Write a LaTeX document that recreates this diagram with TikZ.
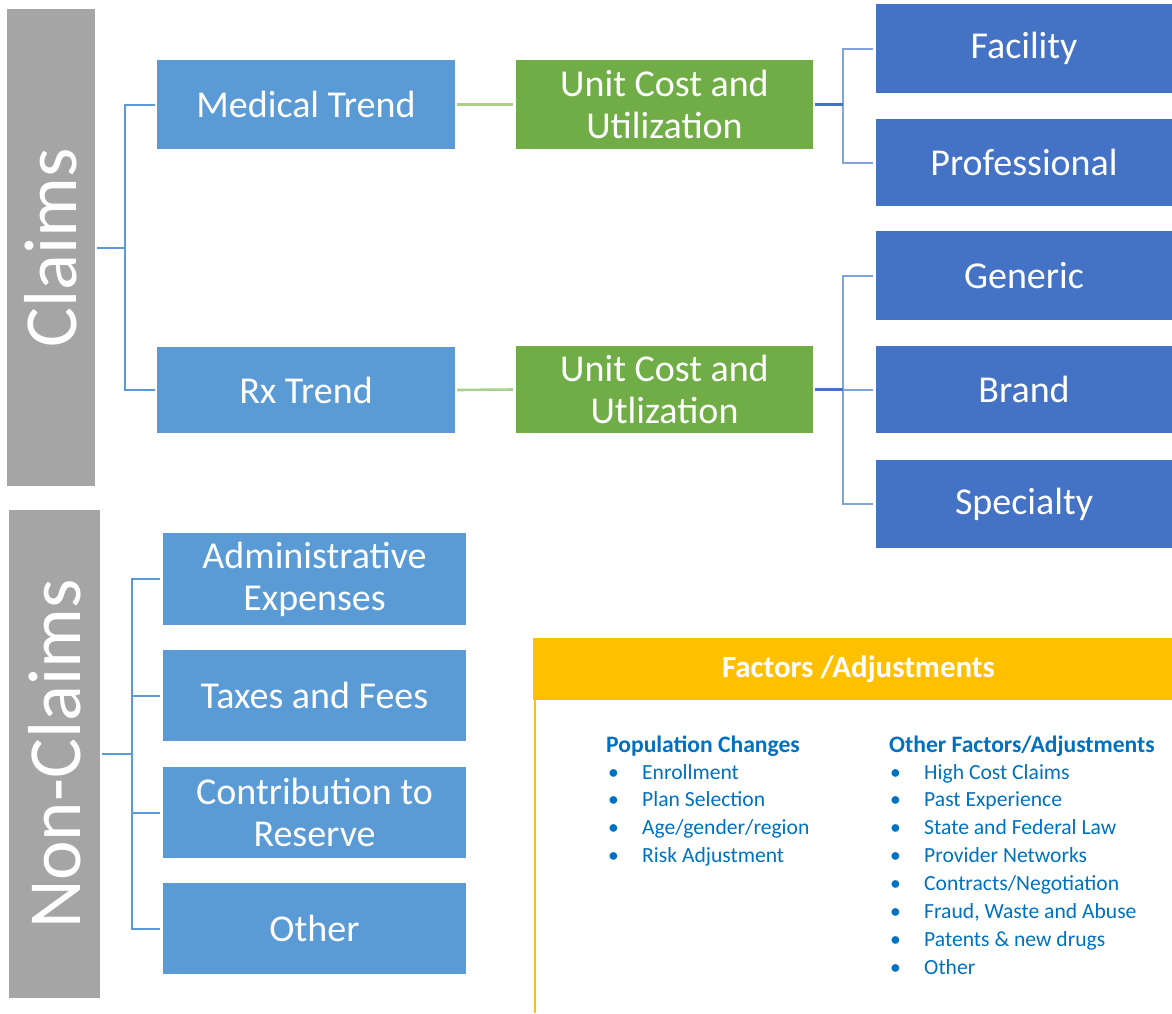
\documentclass[tikz,border=0pt]{standalone}
\usepackage{fontspec}
\setmainfont{Carlito}
\definecolor{mblue}{HTML}{5B9BD5}
\definecolor{dblue}{HTML}{4472C4}
\definecolor{lgreen}{HTML}{70AD47}
\definecolor{pgreen}{HTML}{A9D18E}
\definecolor{lgray}{HTML}{A5A5A5}
\definecolor{gold}{HTML}{FFC000}
\definecolor{listblue}{HTML}{0070C0}
\definecolor{bracketblue}{HTML}{7FA3DA}
\begin{document}
\begin{tikzpicture}[x=1pt,y=-1pt,
  box/.style={rectangle, inner sep=0pt, align=center, text=white, font=\fontsize{38}{42}\selectfont},
  mbox/.style={box, fill=mblue},
  dbox/.style={box, fill=dblue},
  gbox/.style={box, fill=lgreen},
  sidebar/.style={rectangle, inner sep=0pt, fill=lgray},
  sidetext/.style={text=white, rotate=90, inner sep=0pt, font=\fontsize{75}{80}\selectfont},
  lconn/.style={draw=mblue, line width=2pt},
  gconn/.style={draw=pgreen, line width=2.6pt},
  rthick/.style={draw=dblue, line width=3.5pt},
  rthin/.style={draw=bracketblue, line width=2pt},
  listhead/.style={anchor=base west, inner sep=0pt, text=listblue, font=\fontsize{23.6}{27}\selectfont\bfseries},
  listitem/.style={anchor=base west, inner sep=0pt, text=listblue, font=\fontsize{21.6}{25}\selectfont},
]
\useasboundingbox (0,0) rectangle (1172,1013);

% side bars
\node[sidebar, minimum width=88pt, minimum height=477pt] (claims) at (51,247.5) {};
\node[sidetext] (claimst) at (claims.center) {Claims};
\node[sidebar, minimum width=91pt, minimum height=488pt] (nonclaims) at (54.5,754) {};
\node[sidetext] (nonclaimst) at (nonclaims.center) {Non-Claims};

% claims tree
\node[mbox, minimum width=298pt, minimum height=89pt] (med) at (306,104.5) {Medical Trend};
\node[mbox, minimum width=298pt, minimum height=86pt] (rx) at (306,390) {Rx Trend};
\node[gbox, minimum width=297pt, minimum height=89pt] (ucu1) at (664.5,104.5) {Unit Cost and\\Utilization};
\node[gbox, minimum width=297pt, minimum height=87pt] (ucu2) at (664.5,389.5) {Unit Cost and\\Utlization};

\node[dbox, minimum width=296pt, minimum height=89pt] (facility) at (1024,48.5) {Facility};
\node[dbox, minimum width=296pt, minimum height=87pt] (professional) at (1024,162.5) {Professional};
\node[dbox, minimum width=296pt, minimum height=89pt] (generic) at (1024,275.5) {Generic};
\node[dbox, minimum width=296pt, minimum height=87pt] (brand) at (1024,389.5) {Brand};
\node[dbox, minimum width=296pt, minimum height=88pt] (specialty) at (1024,504) {Specialty};

% non-claims tree
\node[mbox, minimum width=303pt, minimum height=92pt] (admin) at (314.5,579) {Administrative\\Expenses};
\node[mbox, minimum width=303pt, minimum height=91pt] (taxes) at (314.5,695.5) {Taxes and Fees};
\node[mbox, minimum width=303pt, minimum height=91pt] (contrib) at (314.5,812.5) {Contribution to\\Reserve};
\node[mbox, minimum width=303pt, minimum height=91pt] (otherb) at (314.5,928.5) {Other};

% connectors: claims
\coordinate (cj) at (125,247.5);
\draw[lconn] (claims.east) ++(2,0) -- (cj);
\draw[lconn] (med.west) ++(-2,0) -| (cj);
\draw[lconn] (rx.west) ++(-2,0) -| (cj);

\draw[gconn] (med.east) ++(2,0) -- ([xshift=-3pt]ucu1.west);
\draw[gconn] (rx.east) ++(2,0) -- ([xshift=-3pt]ucu2.west);

\coordinate (rj1) at (843,104.5);
\draw[rthin] ([xshift=-3pt]facility.west) -| (rj1);
\draw[rthin] ([xshift=-3pt]professional.west) -| (rj1);
\draw[rthick] ([xshift=2pt]ucu1.east) -- (rj1);

\coordinate (rj2) at (843,389.5);
\draw[rthin] ([xshift=-3pt]generic.west) -| (rj2);
\draw[rthin] ([xshift=-3pt]specialty.west) -| (rj2);
\draw[rthin] ([xshift=-3pt]brand.west) -- (rj2);
\draw[rthick] ([xshift=2pt]ucu2.east) -- (rj2);

% connectors: non-claims
\coordinate (nj) at (132,754);
\draw[lconn] (nonclaims.east) ++(2,0) -- (nj);
\draw[lconn] ([xshift=-3pt]admin.west) -| (nj);
\draw[lconn] ([xshift=-3pt]taxes.west) -| (nj);
\draw[lconn] ([xshift=-3pt]contrib.west) -| (nj);
\draw[lconn] ([xshift=-3pt]otherb.west) -| (nj);

% factors panel
\node[rectangle, fill=gold, inner sep=0pt, minimum width=639pt, minimum height=62pt,
      text=white, font=\fontsize{30.9}{34}\selectfont\bfseries] (header) at (852.5,669) {\hspace{12pt}Factors /Adjustments};
\coordinate (ybot) at (535,1013);
\draw[draw=gold, line width=2pt] (header.south west -| ybot) -- (ybot);

\node[listhead] (pophead) at (606,752) {Population Changes};
\foreach \t [count=\i] in {Enrollment, Plan Selection, Age/gender/region, Risk Adjustment}{
  \node[listitem] (pop\i) at (608,779+27.9*\i-27.9) {\makebox[34pt][l]{•}\t};
}
\node[listhead] (othhead) at (889,752) {Other Factors/Adjustments};
\foreach \t [count=\i] in {High Cost Claims, Past Experience, State and Federal Law, Provider Networks, Contracts/Negotiation, {Fraud, Waste and Abuse}, Patents \& new drugs, Other}{
  \node[listitem] (oth\i) at (890,779+27.9*\i-27.9) {\makebox[34pt][l]{•}\t};
}
\end{tikzpicture}
\end{document}
